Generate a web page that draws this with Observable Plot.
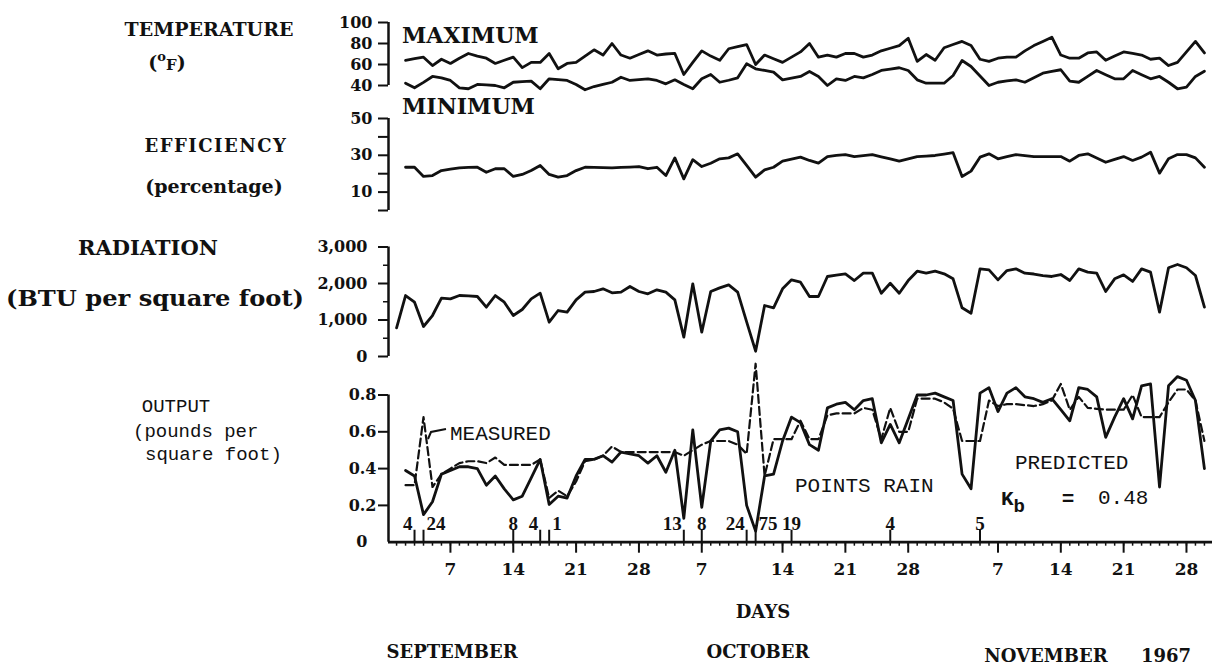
<!DOCTYPE html>
<html><head><meta charset="utf-8">
<script src="https://cdn.jsdelivr.net/npm/d3@7"></script>
<script src="https://cdn.jsdelivr.net/npm/@observablehq/plot@0.6"></script>
<style>
body{margin:0;background:#fff;}
#chart{position:relative;width:1215px;height:670px;overflow:hidden;background:#fff;}
#chart svg{position:absolute;left:0;top:0;}
</style></head><body><div id="chart"></div>
<script>
// Day index: 0 = September 1, 1967 ... 90 = November 30, 1967
const maxTemp = [64,65.5,67,59,65,61,66,70.5,68,66,61,64,67,57,62,62,70.5,56,61,62,68,74,69,80,69,66,69.5,73,69,70,70.5,50.5,62,73,68,64,75,77,79,60,69,65.5,62,67,72,80,67,69,67,70.5,70.5,67,69,73,75.5,78,85,63,69.5,64,76,79,82,78,65,63,66,67,67,73,78,82,86,69,66,66,71,72,64,68,72,70.5,69,65,66,59,62,72,82,71]; // days 1..90
const minTemp = [42.2,37.8,43,48.6,47.3,44.8,37.8,36.9,41,40.5,40,37.8,43.1,43.6,44.1,36.9,46.4,45.6,44.8,41,35.9,39,41,43.1,47.9,44.8,45.6,46.4,44.8,41.6,45.4,41,36.9,46.4,50.5,43.1,45,47.3,60.7,55.9,54.3,52.7,45.4,47,48.6,53.3,48.6,40,46.4,44.8,48.6,47.3,50.5,54.3,55.6,56.9,54.3,45.4,42.2,42.2,42.2,49.5,63.8,58.1,49,40,43.1,44.3,45.4,43.1,47.4,51.7,53.4,55,44.1,43.1,48.7,54.3,50.3,46.4,46.4,54.3,50.3,46.4,48.6,43.1,36.9,38.4,48.6,53.6]; // days 1..90
const efficiency = [23.5,23.5,18.5,19.0,21.7,22.5,23.2,23.4,23.5,20.8,22.7,22.7,18.5,19.6,21.7,24.5,19.6,18.1,19.0,21.7,23.5,23.4,23.3,23.2,23.4,23.6,23.9,22.7,23.5,19.0,28.6,17.2,27.6,23.9,25.7,28.1,28.6,30.8,24.5,18.1,22.1,23.5,26.8,27.9,29.0,27.2,25.7,29.3,29.9,30.4,29.3,29.8,30.4,29.2,28.1,26.8,28,29.3,29.6,29.9,30.6,31.4,18.5,21.4,29.0,30.8,28.1,29.3,30.4,29.8,29.3,29.3,29.3,29.3,26.8,29.9,30.8,28.5,26.2,27.8,29.3,27.2,29.0,31.7,20.3,28.1,30.4,30.4,28.6,23.5]; // days 1..90
const radiation = [786,1671,1488,822,1123,1597,1580,1671,1660,1644,1351,1671,1488,1123,1288,1580,1735,940,1260,1214,1553,1762,1781,1854,1745,1762,1918,1781,1717,1827,1762,1553,529,1991,666,1781,1881,1963,1762,950,145,1397,1334,1854,2100,2036,1644,1644,2192,2230,2265,2082,2283,2283,1734,2008,1734,2080,2337,2283,2337,2265,2128,1334,1186,2402,2375,2100,2356,2402,2283,2260,2215,2192,2246,2082,2402,2310,2283,1781,2128,2237,2055,2402,2310,1214,2430,2521,2430,2219,1351]; // days 0..90
const predicted = [0.39,0.36,0.15,0.22,0.37,0.39,0.41,0.41,0.40,0.31,0.36,0.29,0.23,0.25,0.35,0.45,0.205,0.25,0.24,0.36,0.45,0.45,0.47,0.435,0.49,0.48,0.47,0.43,0.47,0.38,0.50,0.13,0.61,0.19,0.55,0.61,0.62,0.60,0.20,0.06,0.36,0.37,0.55,0.68,0.65,0.53,0.50,0.73,0.75,0.76,0.72,0.77,0.78,0.54,0.64,0.54,0.67,0.80,0.80,0.81,0.79,0.77,0.37,0.29,0.81,0.84,0.71,0.81,0.84,0.79,0.78,0.76,0.78,0.72,0.66,0.84,0.83,0.79,0.57,0.68,0.78,0.67,0.85,0.86,0.30,0.85,0.90,0.88,0.77,0.40]; // days 1..90
const measured = [0.31,0.31,0.68,0.30,0.37,0.40,0.43,0.44,0.44,0.43,0.46,0.42,0.42,0.42,0.42,0.45,0.24,0.28,0.25,0.33,0.44,0.45,0.47,0.52,0.49,0.49,0.49,0.49,0.49,0.49,0.49,0.47,0.50,0.53,0.55,0.55,0.55,0.53,0.48,0.97,0.36,0.56,0.56,0.56,0.66,0.56,0.56,0.69,0.70,0.70,0.70,0.73,0.72,0.56,0.73,0.60,0.60,0.78,0.78,0.78,0.76,0.725,0.55,0.55,0.55,0.77,0.74,0.75,0.75,0.745,0.74,0.75,0.77,0.86,0.72,0.79,0.73,0.725,0.72,0.72,0.72,0.80,0.68,0.68,0.68,0.76,0.83,0.83,0.77,0.55]; // days 1..90
const rainDays = [2,3,13,16,17,32,34,39,40,44,55,65];
const rainPoints = [4,24,8,4,1,13,8,24,75,19,4,5];
const majorTicks = [6,13,20,27,34,43,50,57,67,74,81,88];
const majorLabels = ["7","14","21","28","7","14","21","28","7","14","21","28"];
const monthLabels = ["SEPTEMBER","OCTOBER","NOVEMBER","1967"];

// ---- build ----
const W = 1215, H = 670;
const XD = [-0.9, 90.9];
const serif = "'DejaVu Serif', serif";
const mono = "'Liberation Mono', monospace";
const INK = "#111";
const series = (vals, start) => vals.map((v, i) => ({day: start + i, v}));
const allDays = d3.range(0, 91);

function panel(y, marks, showX = false) {
  return Plot.plot({
    width: W, height: H,
    marginLeft: 388, marginRight: 3, marginTop: 0, marginBottom: H - 541.7,
    x: {domain: XD, label: null, ...(showX ? {} : {axis: null})},
    y: {...y, label: null},
    style: {background: "transparent", color: INK, overflow: "visible",
            fontFamily: serif, fontWeight: "bold", fontSize: "16px"},
    marks
  });
}
const lineStyle = {x: "day", y: "v", stroke: INK, strokeWidth: 2.8, strokeLinejoin: "round"};

const temp = panel({domain: [40, 100], range: [85, 22]}, [
  Plot.ruleX([XD[0]], {y1: 40, y2: 100, strokeWidth: 2.5}),
  Plot.axisY({ticks: [40, 60, 80, 100], tickSize: 10, tickPadding: 6, strokeWidth: 2, label: null}),
  Plot.line(series(maxTemp, 1), lineStyle),
  Plot.line(series(minTemp, 1), lineStyle)
]);

const eff = panel({domain: [0, 50], range: [210, 118]}, [
  Plot.ruleX([XD[0]], {y1: 0, y2: 50, strokeWidth: 2.5}),
  Plot.axisY({ticks: [0, 10, 20, 30, 40, 50], tickSize: 10, tickPadding: 6, strokeWidth: 2, label: null,
              tickFormat: d => (d === 10 || d === 30 || d === 50) ? String(d) : ""}),
  Plot.line(series(efficiency, 1), lineStyle)
]);

const rad = panel({domain: [0, 3000], range: [356, 246.5]}, [
  Plot.ruleX([XD[0]], {y1: 0, y2: 3000, strokeWidth: 2.5}),
  Plot.axisY({ticks: [0, 1000, 2000, 3000], tickSize: 10, tickPadding: 11, strokeWidth: 2, label: null,
              tickFormat: d3.format(",")}),
  Plot.axisY({ticks: [500, 1500, 2500], tickSize: 5, strokeWidth: 1.5, label: null, tickFormat: () => ""}),
  Plot.line(series(radiation, 0), lineStyle)
]);

const rain = rainDays.map((d, i) => {
  const next = rainDays[i + 1], prev = rainDays[i - 1];
  let anchor = "middle";
  if (next !== undefined && next - d <= 2) anchor = "end";
  else if (prev !== undefined && d - prev <= 1) anchor = "start";
  return {day: d, pts: String(rainPoints[i]), anchor};
});
const majorMap = new Map(majorTicks.map((t, i) => [t, majorLabels[i]]));
const rainText = (anchor, dx) => Plot.text(rain.filter(r => r.anchor === anchor), {
  x: "day", y: 0.064, text: "pts", textAnchor: anchor, lineAnchor: "bottom", dx,
  fontFamily: "'Liberation Serif', serif", fontWeight: "bold", fontSize: 19, fill: INK
});

const out = panel({domain: [0, 1], range: [541.7, 357.7]}, [
  Plot.ruleX([XD[0]], {y1: 0, y2: 0.8, strokeWidth: 2.5}),
  Plot.axisY({ticks: [0.2, 0.4, 0.6, 0.8], tickSize: 10, tickPadding: 2, strokeWidth: 2, label: null,
              tickFormat: d => d.toFixed(1)}),
  Plot.axisY({ticks: [0], tickSize: 0, tickPadding: 21, label: null, tickFormat: () => "0"}),
  Plot.ruleY([0], {x1: XD[0], x2: XD[1], strokeWidth: 2.8}),
  Plot.axisX({ticks: allDays, tickSize: 4, strokeWidth: 1.5, label: null, tickFormat: () => ""}),
  Plot.axisX({ticks: majorTicks, tickSize: 11, tickPadding: 10, strokeWidth: 2, label: null,
              tickFormat: d => majorMap.get(d), fontSize: 17}),
  Plot.ruleX(rain, {x: "day", y1: 0, y2: 0.065, strokeWidth: 2}),
  rainText("end", -2), rainText("start", 3), rainText("middle", 0),
  Plot.line(series(measured, 1), {...lineStyle, strokeWidth: 2.2, strokeDasharray: "8,4"}),
  Plot.line(series(predicted, 1), lineStyle)
], true);

const chart = document.getElementById("chart");
[temp, eff, rad, out].forEach(p => chart.appendChild(p));

// ---- text annotations overlay ----
const ov = d3.select(chart).append("svg")
  .attr("width", W).attr("height", H).attr("viewBox", `0 0 ${W} ${H}`)
  .attr("fill", INK);
function txt(s, x, y, o = {}) {
  const t = ov.append("text").attr("x", x).attr("y", y)
    .attr("font-family", o.font || serif).attr("font-weight", o.weight || "bold")
    .attr("font-size", o.size || 18).attr("text-anchor", o.anchor || "middle")
    .attr("letter-spacing", o.ls || 0).text(s);
  if (o.len) t.attr("textLength", o.len).attr("lengthAdjust", "spacingAndGlyphs");
  return t;
}
txt("TEMPERATURE", 209, 36, {size: 19});
const degF = ov.append("text").attr("x", 167).attr("y", 69).attr("text-anchor", "middle")
  .attr("font-family", serif).attr("font-weight", "bold").attr("font-size", 19);
degF.append("tspan").text("(");
degF.append("tspan").attr("dy", -8).attr("font-size", 13).text("o");
degF.append("tspan").attr("dy", 9).attr("font-size", 15).text("F");
degF.append("tspan").attr("dy", -1).text(")");
txt("EFFICIENCY", 216, 152, {size: 18, ls: 1.5});
txt("(percentage)", 214, 193, {size: 19});
txt("RADIATION", 148, 255, {size: 21});
txt("(BTU per square foot)", 155, 306, {size: 22, len: 298});
txt("OUTPUT", 176, 412, {font: mono, size: 19, weight: "normal"});
txt("(pounds per", 133, 437, {font: mono, size: 19, weight: "normal", anchor: "start"});
txt("square foot)", 145, 460, {font: mono, size: 19, weight: "normal", anchor: "start"});
txt("MAXIMUM", 402, 43, {size: 22, anchor: "start"});
txt("MINIMUM", 402, 114, {size: 22, anchor: "start"});
txt("MEASURED", 450, 440, {font: mono, size: 21, weight: "normal", anchor: "start"});
ov.append("path").attr("d", "M428,439 L431,432 L446,429").attr("fill", "none")
  .attr("stroke", INK).attr("stroke-width", 2);
txt("POINTS RAIN", 795, 492, {font: mono, size: 21, weight: "normal", anchor: "start"});
txt("PREDICTED", 1015, 469, {font: mono, size: 21, weight: "normal", anchor: "start"});
const kb = ov.append("text").attr("x", 1001).attr("y", 505).attr("font-family", mono)
  .attr("font-size", 21).attr("font-weight", "bold");
kb.append("tspan").text("K");
kb.append("tspan").attr("dy", 7).attr("font-size", 19).text("b");
txt("=", 1068, 505, {font: mono, size: 21});
txt("0.48", 1098, 504, {font: mono, size: 21, weight: "normal", anchor: "start"});
txt("DAYS", 763, 618, {size: 18});
txt(monthLabels[0], 452, 658, {size: 18});
txt(monthLabels[1], 758, 658, {size: 18});
txt(monthLabels[2], 1046, 662, {size: 18});
txt(monthLabels[3], 1166, 662, {size: 18});
</script></body></html>
